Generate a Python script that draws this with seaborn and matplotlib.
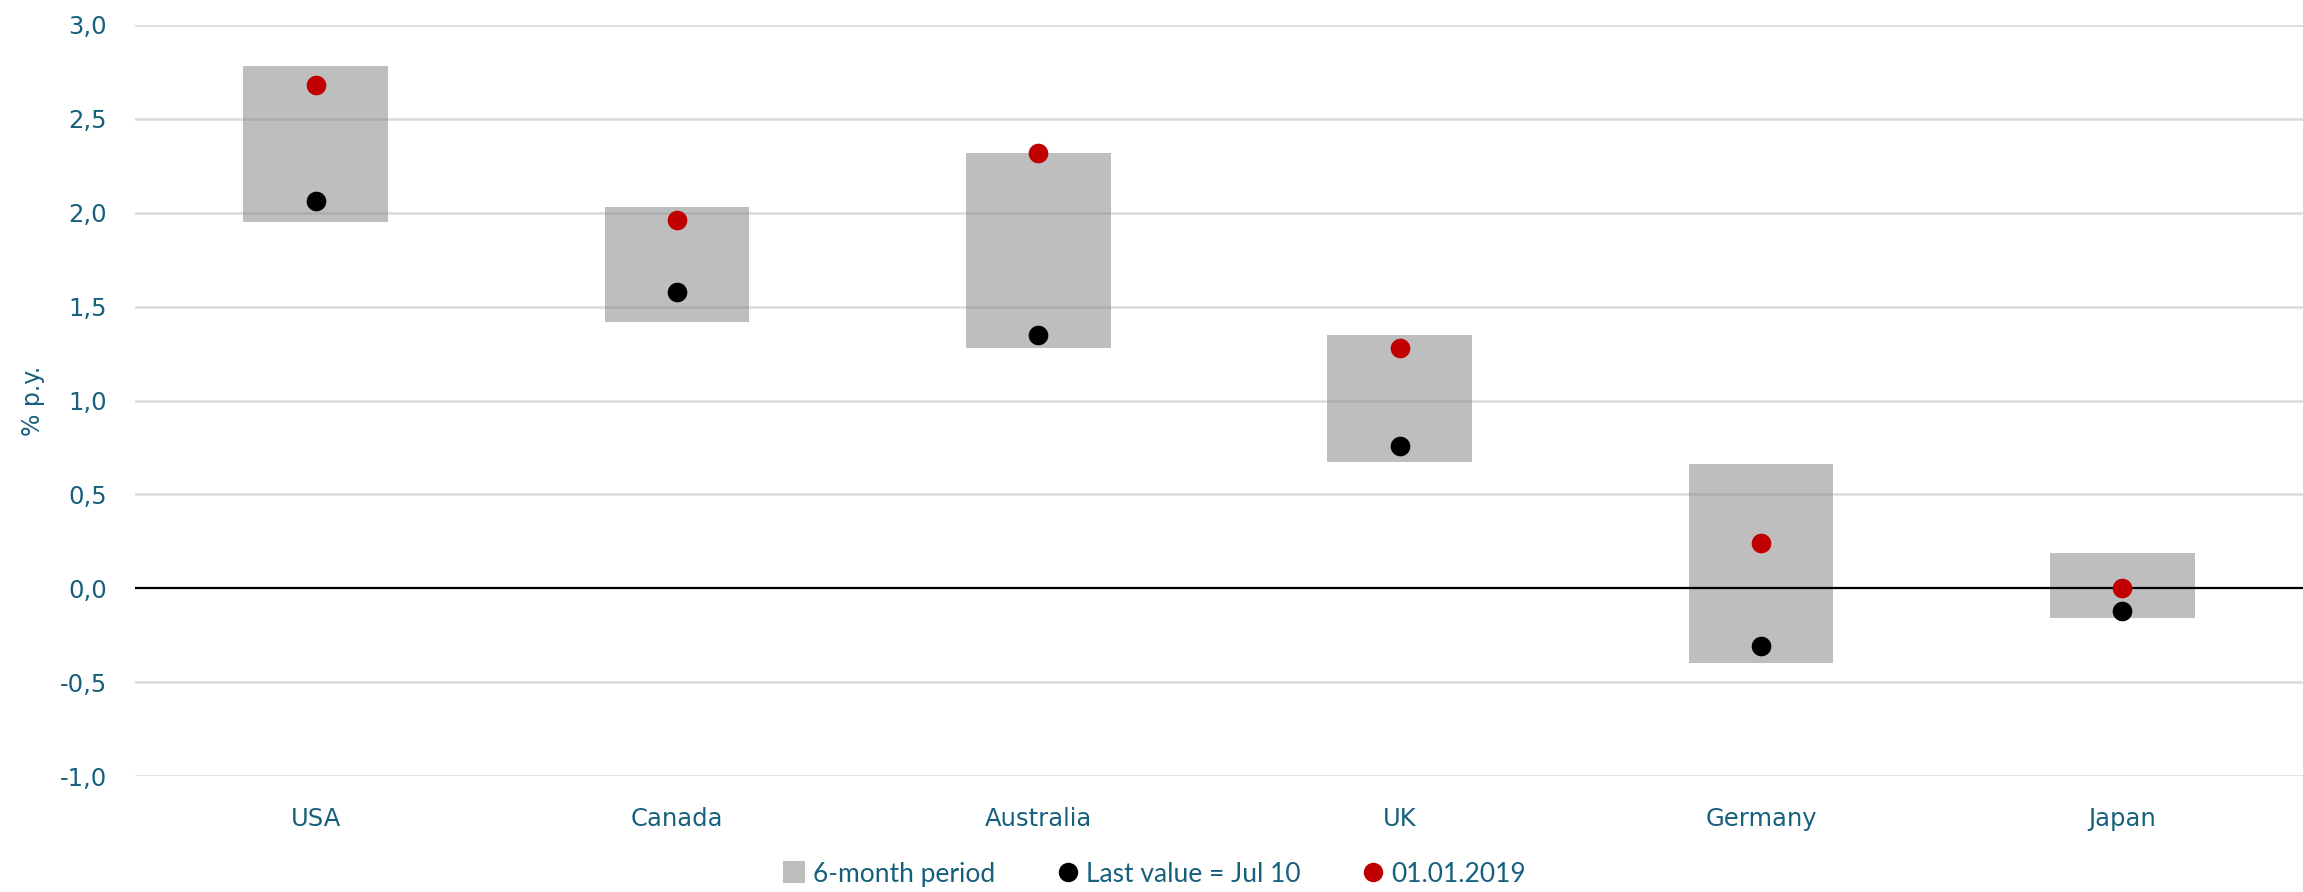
import matplotlib
matplotlib.use("Agg")
import matplotlib.pyplot as plt
from matplotlib.lines import Line2D
import seaborn as sns
import pandas as pd

# 10-year government bond yields, % p.y.
countries = ["USA", "Canada", "Australia", "UK", "Germany", "Japan"]
range_high = [2.78, 2.03, 2.32, 1.35, 0.66, 0.19]
range_low = [1.95, 1.42, 1.28, 0.67, -0.40, -0.16]
last_value = [2.06, 1.58, 1.35, 0.76, -0.31, -0.12]
start_of_year = [2.68, 1.96, 2.32, 1.28, 0.24, 0.00]
y_ticks = [-1.0, -0.5, 0.0, 0.5, 1.0, 1.5, 2.0, 2.5, 3.0]

TEAL = "#17607D"
BAR = "#BEBEBE"
RED = "#C00000"

df = pd.DataFrame({
    "country": countries,
    "span": [h - l for h, l in zip(range_high, range_low)],
    "low": range_low,
    "last": last_value,
    "start": start_of_year,
})

sns.set_theme(style="white")
plt.rcParams["font.family"] = ["DejaVu Sans"]

fig = plt.figure(figsize=(23.03, 8.92), dpi=100)
ax = fig.add_axes([0.0586, 0.130, 0.9414, 0.842])

sns.barplot(data=df, x="country", y="span", bottom=df["low"].tolist(),
            color=BAR, width=0.4, errorbar=None, saturation=1,
            linewidth=0, ax=ax, zorder=2)
sns.scatterplot(data=df, x="country", y="last", color="black", s=200,
                linewidth=0, ax=ax, zorder=4)
sns.scatterplot(data=df, x="country", y="start", color=RED, s=200,
                linewidth=0, ax=ax, zorder=4)

ax.set_xlim(-0.5, len(countries) - 0.5)
ax.set_ylim(-1.0, 3.0)
ax.set_yticks(y_ticks)
ax.set_yticklabels([f"{v:.1f}".replace(".", ",") for v in y_ticks])

for v in y_ticks:
    if v == 0:
        ax.axhline(v, color="black", linewidth=1.6, zorder=3)
    else:
        ax.axhline(v, color="#888888", alpha=0.3, linewidth=1.8, zorder=3)

for s in ax.spines.values():
    s.set_visible(False)
ax.tick_params(axis="y", colors=TEAL, labelsize=17.5, length=0, pad=20)
ax.tick_params(axis="x", colors=TEAL, labelsize=17.5, length=0, pad=22)
ax.set_xlabel("")
ax.set_ylabel("% p.y.", color=TEAL, fontsize=17, labelpad=11)

handles = [
    Line2D([], [], marker="s", linestyle="none", markersize=16,
           markerfacecolor=BAR, markeredgewidth=0),
    Line2D([], [], marker="o", linestyle="none", markersize=14,
           markerfacecolor="black", markeredgewidth=0),
    Line2D([], [], marker="o", linestyle="none", markersize=14,
           markerfacecolor=RED, markeredgewidth=0),
]
labels = ["6-month period", "Last value = Jul 10", "01.01.2019"]
fig.legend(handles, labels, loc="center", bbox_to_anchor=(0.501, 0.02),
           ncol=3, frameon=False, handletextpad=0.2, columnspacing=2.25,
           handlelength=1.0, prop={"family": ["Lato", "DejaVu Sans"], "size": 19},
           labelcolor=TEAL)

fig.savefig("out.png", dpi=100)
